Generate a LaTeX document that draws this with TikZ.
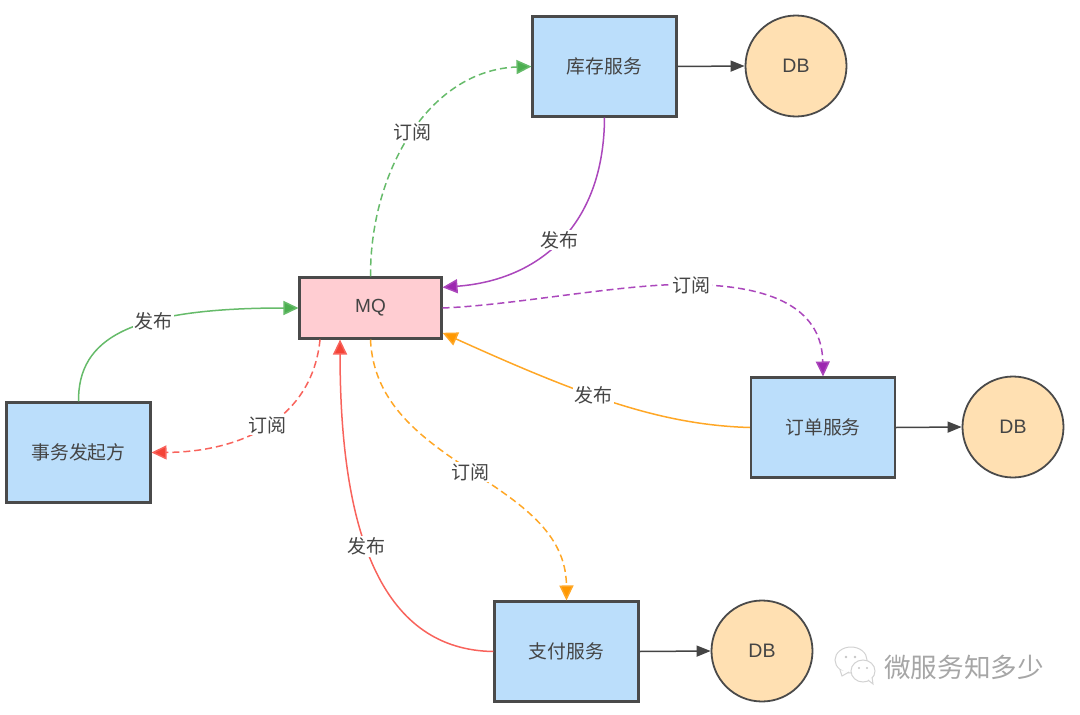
\documentclass[tikz,border=0pt]{standalone}
\usepackage{xcolor}
\usepackage{fontspec}
\setmainfont{Liberation Sans}
\newfontfamily\cjk{Noto Sans CJK SC}
\usetikzlibrary{arrows.meta}
\definecolor{boxblue}{HTML}{BBDEFB}
\definecolor{boxpink}{HTML}{FFCDD2}
\definecolor{dbfill}{HTML}{FFE0B2}
\definecolor{edge}{HTML}{4A4A4A}
\definecolor{ink}{HTML}{444444}
\definecolor{lgreen}{HTML}{66BB6A}
\definecolor{tgreen}{HTML}{4CAF50}
\definecolor{lpurple}{HTML}{AB47BC}
\definecolor{tpurple}{HTML}{9C27B0}
\definecolor{lred}{HTML}{F8635C}
\definecolor{tred}{HTML}{F44336}
\definecolor{lorange}{HTML}{FFA726}
\definecolor{torange}{HTML}{FF9800}
\tikzset{block/.style={rectangle,draw=edge,line width=2.05pt,fill=boxblue,text=ink,minimum width=144pt,minimum height=100pt,inner sep=0pt,font=\fontsize{18.8}{20}\selectfont\cjk},
         mqblock/.style={block,fill=boxpink,minimum height=61pt,minimum width=142pt,font=\fontsize{19}{21}\selectfont},
         dbnode/.style={circle,draw=edge,line width=1.8pt,fill=dbfill,text=ink,minimum size=101pt,inner sep=0pt,font=\fontsize{19.5}{21}\selectfont},
         tag/.style={fill=white,text=ink,inner sep=1.5pt,font=\fontsize{19}{21}\selectfont\cjk},
         arrow/.style={line width=1.5pt},
         dbarrow/.style={arrow,draw=ink,-{Triangle[length=14pt,width=11pt]}},
         pub/.style={arrow,draw=#1,-{Triangle[length=15pt,width=14pt,fill=#1]}},
         sub/.style={pub=#1,dash pattern=on 7pt off 4pt},
         wechat/.style={draw=gray!35,line width=1pt,fill=white}}
\begin{document}
\begin{tikzpicture}[x=1pt,y=-1pt]
    \useasboundingbox (0,0) rectangle (1080,715);
    \node (stock) [block] at (604.5,66.5) {库存服务};
    \node (mq) [mqblock] at (370.5,308) {MQ};
    \node (starter) [block] at (78.5,452.5) {事务发起方};
    \node (order) [block] at (823,427.5) {订单服务};
    \node (pay) [block] at (566.5,651.5) {支付服务};
    \node (db1) [dbnode] at (796,66) {DB};
    \node (db2) [dbnode] at (1013,427) {DB};
    \node (db3) [dbnode] at (762,651) {DB};
    \draw[dbarrow] (stock.east) -- (db1.west);
    \draw[dbarrow] (order.east) -- (db2.west);
    \draw[dbarrow] (pay.east) -- (db3.west);
    % publish and subscribe links
    \draw[pub=tgreen,draw=lgreen] (starter.north) .. controls (78,338) and (130,308) .. node[tag,pos=0.62]{发布} (mq.west);
    \draw[sub=tred,draw=lred] (mq.-148.5) .. controls (312,420) and (240,452) .. node[tag,pos=0.49]{订阅} (starter.east);
    \draw[sub=tgreen,draw=lgreen] (mq.north) .. controls (370,170) and (430,70) .. node[tag,pos=0.5]{订阅} (stock.west);
    \draw[pub=tpurple,draw=lpurple] (stock.south) .. controls (604,225) and (540,280) .. node[tag,pos=0.5]{发布} (mq.16.5);
    \draw[sub=tpurple,draw=lpurple] (mq.east) .. controls (520,305) and (640,280) .. (705,285) .. controls (775,288) and (822,310) .. (order.north);
    \node[tag] (subo) at (691,285) {订阅};
    \draw[pub=torange,draw=lorange] (order.west) .. controls (660,425) and (580,395) .. node[tag,pos=0.57]{发布} (mq.-19.4);
    \draw[sub=torange,draw=lorange] (mq.south) .. controls (376,468) and (566,478) .. node[tag,pos=0.5]{订阅} (pay.north);
    \draw[pub=tred,draw=lred] (pay.west) .. controls (385,650) and (340,540) .. node[tag,pos=0.57]{发布} (mq.-134.5);
    % watermark
    \draw[wechat] (851,660) ellipse (16pt and 13pt);
    \draw[wechat] (840,670) -- (842,676) -- (849,672);
    \draw[wechat] (863,671) ellipse (12pt and 11pt);
    \draw[wechat] (868,680) -- (873,684) -- (872,677);
    \fill[gray!45] (846,657) circle (1.3pt) (855,657) circle (1.3pt) (859,668) circle (1.2pt) (867,668) circle (1.2pt);
    \node (mark) [text=gray!70,inner sep=0pt,anchor=west,font=\fontsize{26.6}{28}\selectfont\cjk] at (884,667) {微服务知多少};
  \end{tikzpicture}
\end{document}
